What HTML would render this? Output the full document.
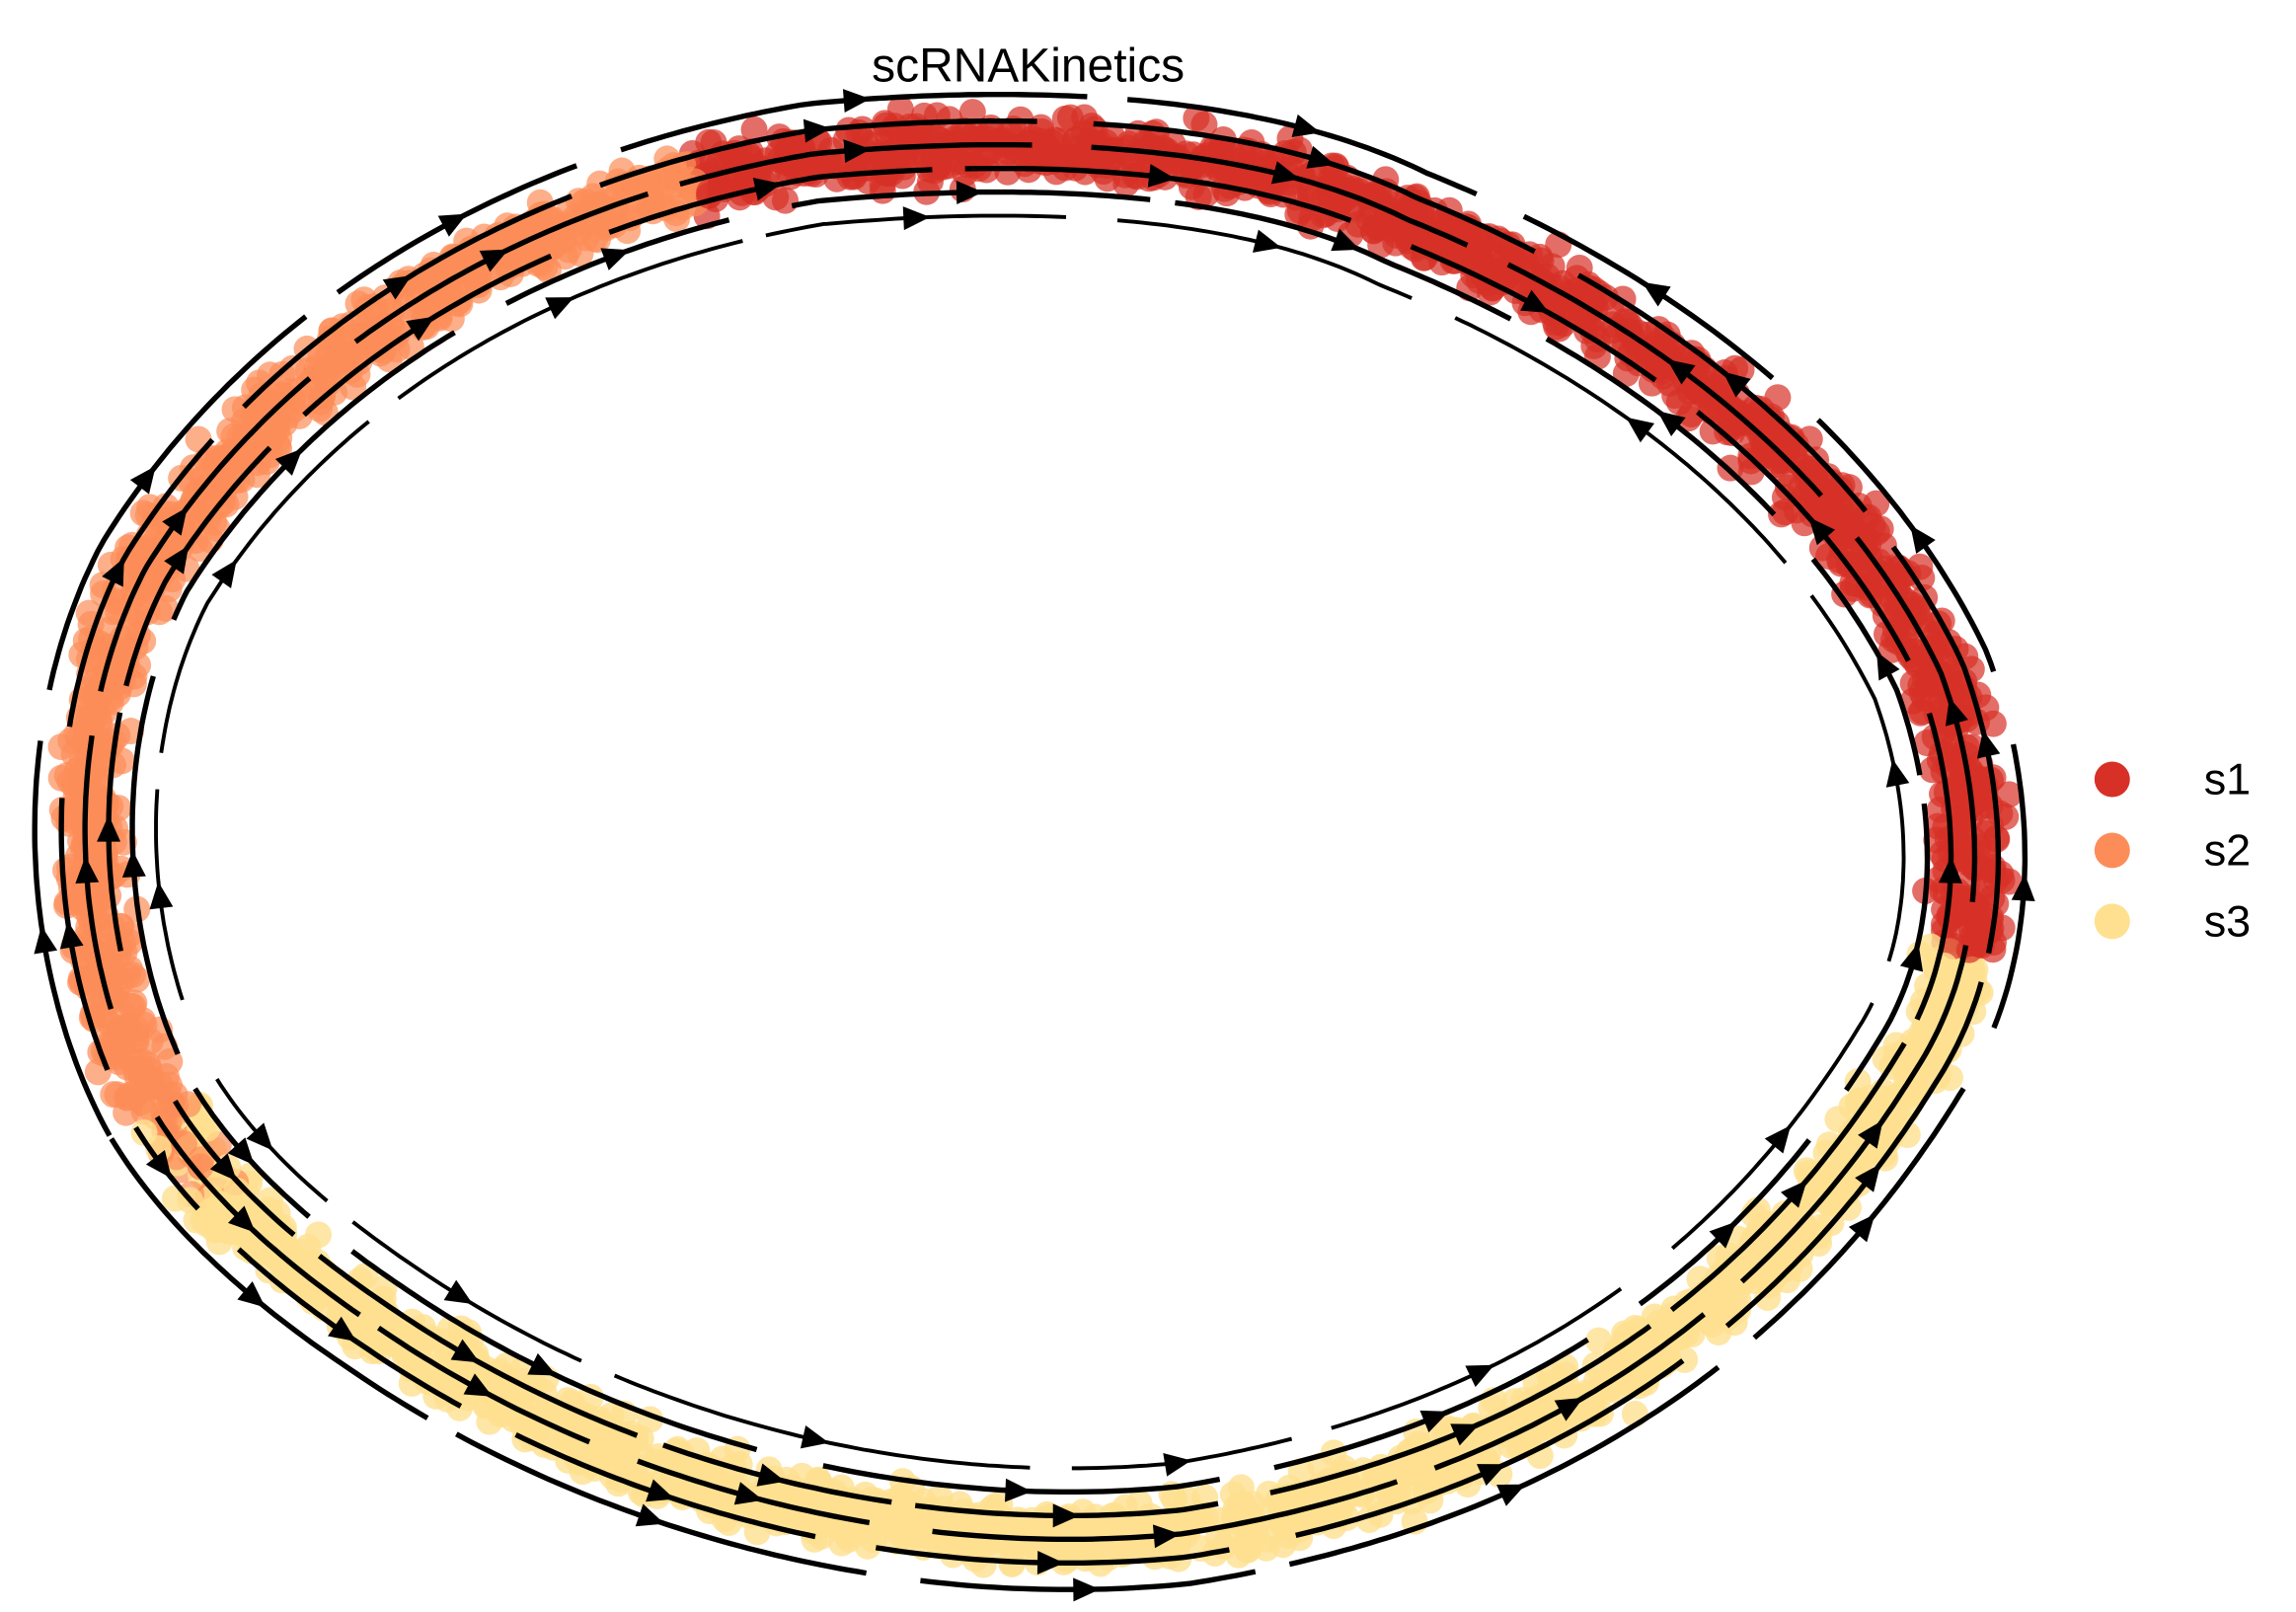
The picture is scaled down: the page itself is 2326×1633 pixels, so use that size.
<!DOCTYPE html>
<html><head><meta charset="utf-8"><style>
html,body{margin:0;padding:0;background:#fff;width:2326px;height:1633px;overflow:hidden}
svg{display:block}
</style></head><body>
<svg id="s" width="2326" height="1633" viewBox="0 0 1552 1090" xmlns="http://www.w3.org/2000/svg">
<path id="band" d="M105 750 C50 650,40 500,100 385 C190 240,350 140,550 106 C700 92,850 100,950 150 C1100 210,1240 310,1310 455 C1345 550,1340 650,1295 720 C1200 875,1050 995,800 1035 C600 1055,400 995,255 895 C185 848,135 800,105 750 Z" fill="none" stroke="none"/>
<g id="dots"></g>
<g id="lines" fill="none" stroke="#000" stroke-linecap="butt"></g>
<text x="695" y="55" font-family="Liberation Sans, DejaVu Sans, sans-serif" font-size="32" text-anchor="middle">scRNAKinetics</text>
<circle cx="1428" cy="527" r="12" fill="#d73027"/>
<circle cx="1428" cy="575" r="12" fill="#fc8d59"/>
<circle cx="1428" cy="623" r="12" fill="#fee090"/>
<text x="1490" y="537" font-family="Liberation Sans, DejaVu Sans, sans-serif" font-size="30">s1</text>
<text x="1490" y="585" font-family="Liberation Sans, DejaVu Sans, sans-serif" font-size="30">s2</text>
<text x="1490" y="633" font-family="Liberation Sans, DejaVu Sans, sans-serif" font-size="30">s3</text>
</svg>
<script>
(function(){
var NS="http://www.w3.org/2000/svg";
var p=document.getElementById('band');var L=p.getTotalLength();
var seed=12345;function r(){seed=(seed*1103515245+12345)%2147483648;return seed/2147483648;}
function pt(l){l=((l%L)+L)%L;return p.getPointAtLength(l);}
function nrm(l){var a=pt(l-1),b=pt(l+1);var dx=b.x-a.x,dy=b.y-a.y,m=Math.hypot(dx,dy)||1;return [dx/m,dy/m,-dy/m,dx/m];}
function nearest(x,y){var best=0,bd=1e9;for(var l=0;l<L;l+=2){var q=pt(l);var d=(q.x-x)*(q.x-x)+(q.y-y)*(q.y-y);if(d<bd){bd=d;best=l;}}return best;}
var lOr=nearest(470,120), lRY=nearest(1325,640), lYO=nearest(150,810), lSplit=nearest(1060,205);
var dg=document.getElementById('dots');
for(var i=0;i<3200;i++){var l=r()*L;var q=pt(l),n=nrm(l);var off=(r()+r()+r()-1.5)*22;
 var x=q.x+n[2]*off,y=q.y+n[3]*off;var c=document.createElementNS(NS,'circle');
 c.setAttribute('cx',x.toFixed(1));c.setAttribute('cy',y.toFixed(1));c.setAttribute('r',9);
 var col;
 if(l<lOr) col='#fc8d59'; else if(l<lRY) col='#d73027'; else if(l>lYO) col=(r()<0.5?'#fc8d59':'#fee090'); else col='#fee090';
 c.setAttribute('fill',col);c.setAttribute('fill-opacity',col=='#fee090'?0.8:0.7);dg.appendChild(c);}
var lg=document.getElementById('lines');
var offs=[-36,-18,-2,14,30,46];
offs.forEach(function(off,k){
 var l=k*37%120;
 while(l<L){var len=160+r()*160;var e=Math.min(l+len,L);
  var d='';for(var s=l;s<=e;s+=6){var q=pt(s),n=nrm(s);d+=(s==l?'M':'L')+(q.x+n[2]*off).toFixed(1)+' '+(q.y+n[3]*off).toFixed(1);}
  var pa=document.createElementNS(NS,'path');pa.setAttribute('d',d);pa.setAttribute('stroke-width',(Math.abs(off)>40?2.6:3.6));lg.appendChild(pa);
  var m=(l+e)/2;var q=pt(m),n=nrm(m);var cx=q.x+n[2]*off,cy=q.y+n[3]*off;
  var fwd=(m<lSplit); var dx=fwd?n[0]:-n[0],dy=fwd?n[1]:-n[1];
  var h=18,w=8;var tip=[cx+dx*h/2,cy+dy*h/2],b1=[cx-dx*h/2-dy*w,cy-dy*h/2+dx*w],b2=[cx-dx*h/2+dy*w,cy-dy*h/2-dx*w];
  var ar=document.createElementNS(NS,'path');ar.setAttribute('d','M'+tip+' L'+b1+' L'+b2+' Z');ar.setAttribute('fill','#000');ar.setAttribute('stroke','none');lg.appendChild(ar);
  l=e+14+r()*30;}
});
})();
</script>
</body></html>
